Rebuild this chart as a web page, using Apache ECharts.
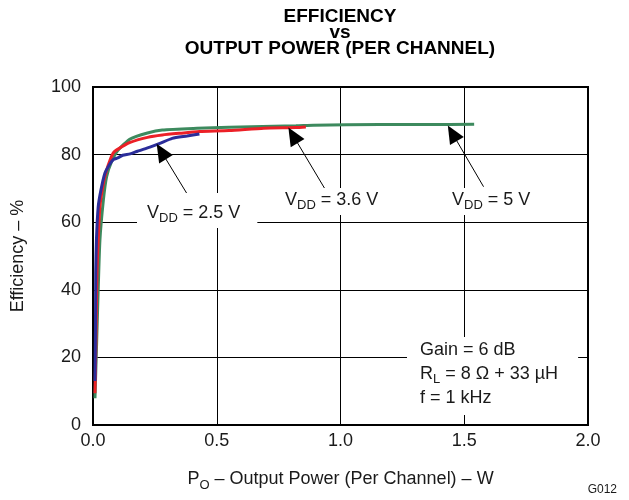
<!DOCTYPE html>
<html>
<head>
<meta charset="utf-8">
<script src="https://cdn.jsdelivr.net/npm/echarts@6/dist/echarts.min.js"></script>
<style>
  html, body { margin: 0; background: #fff; }
  #chart { width: 629px; height: 500px; }
</style>
</head>
<body>
<div id="chart"></div>
<script>
// tick labels
var xTickLabels = ['0.0', '0.5', '1.0', '1.5', '2.0'];
var yTickLabels = ['0', '20', '40', '60', '80', '100'];

// VDD = 5 V (green)
var pout5 = [0.008, 0.015, 0.021, 0.028, 0.042, 0.055, 0.075, 0.10, 0.15, 0.22, 0.28, 0.42, 0.55, 0.82, 0.89, 1.16, 1.35, 1.54];
var eff5 = [7.9, 25, 40, 54.7, 66.6, 73.5, 77.9, 81.2, 84.6, 86.4, 87.3, 87.8, 88.1, 88.5, 88.7, 88.9, 88.9, 89.0];

// VDD = 3.6 V (red)
var pout36 = [0.008, 0.012, 0.016, 0.021, 0.028, 0.042, 0.055, 0.069, 0.082, 0.096, 0.15, 0.22, 0.28, 0.35, 0.43, 0.55, 0.69, 0.82, 0.86];
var eff36 = [9.4, 25, 45, 54.7, 64.6, 71.5, 75.4, 78.4, 80.5, 81.4, 83.6, 85.1, 85.8, 86.3, 86.8, 87.1, 87.8, 88.0, 88.2];

// VDD = 2.5 V (blue)
var pout25 = [0.008, 0.010, 0.011, 0.014, 0.021, 0.032, 0.048, 0.062, 0.082, 0.10, 0.12, 0.15, 0.18, 0.23, 0.27, 0.32, 0.38, 0.43];
var eff25 = [13, 28, 45, 55, 64.5, 69.5, 74.5, 76.5, 78.5, 79, 79.8, 80.2, 81, 82.2, 83.3, 84.8, 85.5, 86.1];

// annotation arrows: [from, to] in data units
var arrow25 = [[0.395, 66.6], [0.276, 80.9]];
var arrow36 = [[0.94, 69.5], [0.808, 85.7]];
var arrow5 = [[1.578, 70.5], [1.452, 86.3]];

function pairs(xs, ys) {
  return xs.map(function (x, i) { return [x, ys[i]]; });
}

var FONT = 'Liberation Sans, Arial, sans-serif';
var TXT = '#1a1a1a';

function subRich(size, lh) {
  return {
    m: { fontSize: size, lineHeight: lh, fontFamily: FONT, fill: TXT, color: TXT },
    s: { fontSize: 13, lineHeight: 13, verticalAlign: 'bottom', fontFamily: FONT, fill: TXT, color: TXT }
  };
}

function arrowLine(a) {
  return {
    silent: true,
    symbol: ['none', 'triangle'],
    symbolSize: [16, 18],
    label: { show: false },
    lineStyle: { color: '#000', width: 1, type: 'solid' },
    itemStyle: { color: '#000' },
    emphasis: { disabled: true },
    data: [[{ coord: a[0] }, { coord: a[1] }]]
  };
}

function vddLabel(txt, x, y, pad) {
  return {
    type: 'text', x: x, y: y, z: 100,
    style: {
      text: '{m|V}{s|DD}{m| = ' + txt + '}',
      rich: subRich(18, 24),
      backgroundColor: '#fff',
      padding: pad
    }
  };
}

var myChart = echarts.init(document.getElementById('chart'));
var option = {
  animation: false,
  backgroundColor: '#fff',
  title: {
    text: 'EFFICIENCY\nvs\nOUTPUT POWER (PER CHANNEL)',
    left: 335,
    top: 4,
    textAlign: 'center',
    textStyle: { fontSize: 19, fontWeight: 'bold', fontFamily: FONT, color: '#000', lineHeight: 16 }
  },
  grid: {
    left: 93, right: 41, top: 87, bottom: 75,
    show: true, borderColor: '#000', borderWidth: 2
  },
  xAxis: {
    type: 'value', min: 0, max: 2, interval: 0.5,
    name: '{m|P}{s|O}{m| – Output Power (Per Channel) – W}',
    nameLocation: 'middle', nameGap: 41,
    nameTextStyle: { rich: subRich(18, 26) },
    axisLine: { show: true, lineStyle: { color: '#000', width: 2 } },
    axisTick: { show: false },
    axisLabel: {
      margin: 7, fontSize: 18, fontFamily: FONT, color: TXT,
      formatter: function (v) { return xTickLabels[Math.round(v / 0.5)]; }
    },
    splitLine: { show: true, lineStyle: { color: '#000', width: 1 } }
  },
  yAxis: {
    type: 'value', min: 0, max: 100, interval: 20,
    name: 'Efficiency – %',
    nameLocation: 'middle', nameGap: 66,
    nameTextStyle: { fontSize: 18, fontFamily: FONT, color: TXT },
    axisLine: { show: true, lineStyle: { color: '#000', width: 2 } },
    axisTick: { show: false },
    axisLabel: {
      margin: 12, fontSize: 18, fontFamily: FONT, color: TXT,
      formatter: function (v) { return yTickLabels[Math.round(v / 20)]; }
    },
    splitLine: { show: true, lineStyle: { color: '#000', width: 1 } }
  },
  series: [
    {
      name: 'VDD = 5 V', type: 'line', data: pairs(pout5, eff5),
      showSymbol: false, smooth: 0.2,
      lineStyle: { color: '#3d8a5e', width: 3 },
      markLine: arrowLine(arrow5)
    },
    {
      name: 'VDD = 3.6 V', type: 'line', data: pairs(pout36, eff36),
      showSymbol: false, smooth: 0.2,
      lineStyle: { color: '#ec2027', width: 3 },
      markLine: arrowLine(arrow36)
    },
    {
      name: 'VDD = 2.5 V', type: 'line', data: pairs(pout25, eff25),
      showSymbol: false, smooth: 0.2,
      lineStyle: { color: '#2b2d9a', width: 3 },
      markLine: arrowLine(arrow25)
    }
  ],
  graphic: [
    vddLabel('2.5 V', 137, 193, [8, 17, 3, 10]),
    vddLabel('3.6 V', 279, 188, [0, 6, 3, 6]),
    vddLabel('5 V', 446, 188, [0, 6, 3, 6]),
    {
      type: 'text', x: 407, y: 337, z: 100,
      style: {
        text: '{m|Gain = 6 dB}\n{m|R}{s|L}{m| = 8 Ω + 33 µH}\n{m|f = 1 kHz}',
        rich: subRich(18, 24),
        backgroundColor: '#fff',
        padding: [1, 20, 5, 13]
      }
    },
    {
      type: 'text', right: 12, bottom: 4, z: 100,
      style: { text: 'G012', fontSize: 12, fontFamily: FONT, fill: TXT }
    }
  ]
};
myChart.setOption(option);
</script>
</body>
</html>
